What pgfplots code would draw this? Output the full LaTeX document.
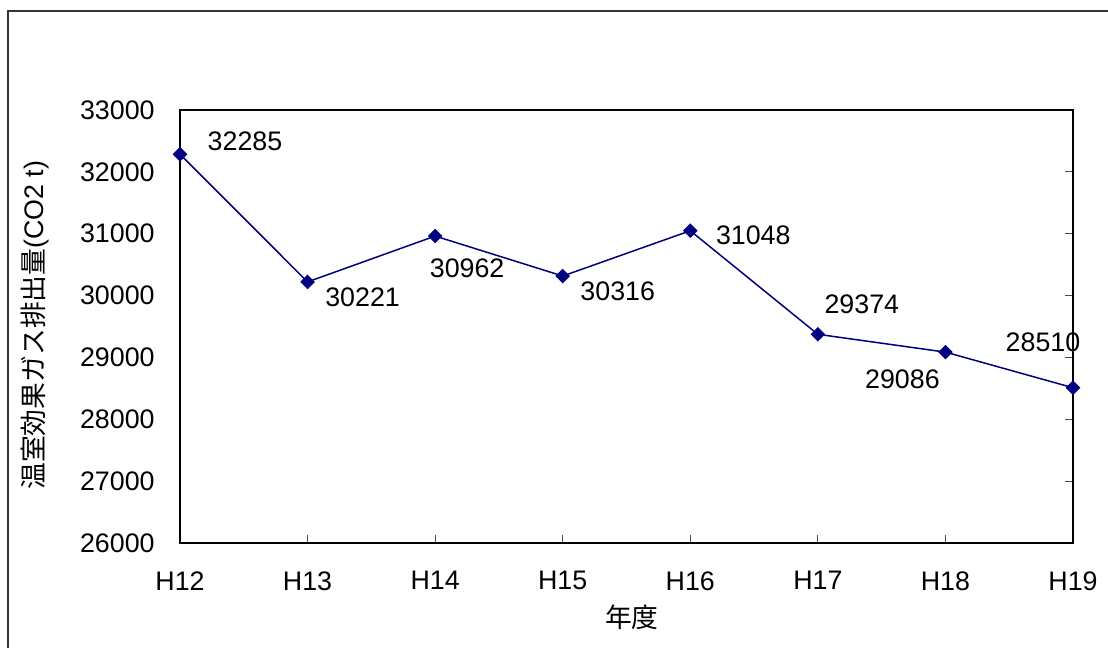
\documentclass[border=0pt]{standalone}
\usepackage{fontspec}
\setmainfont{Liberation Sans}
\newfontfamily\jp{Noto Sans CJK JP}
\usepackage{pgfplots}
\pgfplotsset{compat=1.18}
\definecolor{navyline}{RGB}{0,0,128}
\begin{document}
\fontsize{13.4}{15}\selectfont
\begin{tikzpicture}
\path[use as bounding box] (0,0) rectangle (554pt,324pt);
\draw[line width=0.7pt, black!80] (4pt,0) -- (4pt,318.5pt) -- (554pt,318.5pt);
\begin{axis}[
  at={(90pt,52.5pt)}, anchor=south west,
  scale only axis, width=446.5pt, height=216.5pt,
  xmin=0, xmax=7, ymin=26000, ymax=33000,
  xtick={0,...,7},
  xticklabels={H12,H13,H14,H15,H16,H17,H18,H19},
  ytick={26000,27000,...,33000},
  scaled y ticks=false,
  tick align=inside,
  xtick pos=bottom,
  ytick pos=right,
  yticklabel pos=left,
  major tick length=4pt,
  tick style={black!70, line width=0.6pt},
  axis line style={line width=0.9pt},
  /pgf/number format/.cd, fixed, precision=0, set thousands separator={}, assume math mode=true,
  /pgfplots/.cd,
  yticklabel style={inner sep=0pt, anchor=east, xshift=-12.5pt},
  xticklabel style={inner sep=0pt, anchor=north, yshift=-14pt},
  xlabel={\jp 年度},
  ylabel={{\jp 温室効果ガス排出量}(CO2 t)},
  xlabel style={at={(rel axis cs:0.506,-0.171)}, anchor=center, inner sep=0pt},
  ylabel style={at={(rel axis cs:-0.162,0.503)}, anchor=center, inner sep=0pt, rotate=0},
  clip=false,
]
\addplot[navyline, line width=0.75pt, mark=square*, mark size=2.2pt, mark options={fill=navyline, rotate=45}]
coordinates {(0,32285) (1,30221) (2,30962) (3,30316) (4,31048) (5,29374) (6,29086) (7,28510)};
\node[shift={(32.5pt,6.5pt)}] at (axis cs:0,32285) {32285};
\node[shift={(27.5pt,-7.5pt)}] at (axis cs:1,30221) {30221};
\node[shift={(16pt,-16pt)}] at (axis cs:2,30962) {30962};
\node[shift={(27.5pt,-7.5pt)}] at (axis cs:3,30316) {30316};
\node[shift={(31.5pt,-2.5pt)}] at (axis cs:4,31048) {31048};
\node[shift={(22pt,15pt)}] at (axis cs:5,29374) {29374};
\node[shift={(-21.5pt,-13.5pt)}] at (axis cs:6,29086) {29086};
\node[shift={(-15pt,22.5pt)}] at (axis cs:7,28510) {28510};
\end{axis}
\end{tikzpicture}
\end{document}
